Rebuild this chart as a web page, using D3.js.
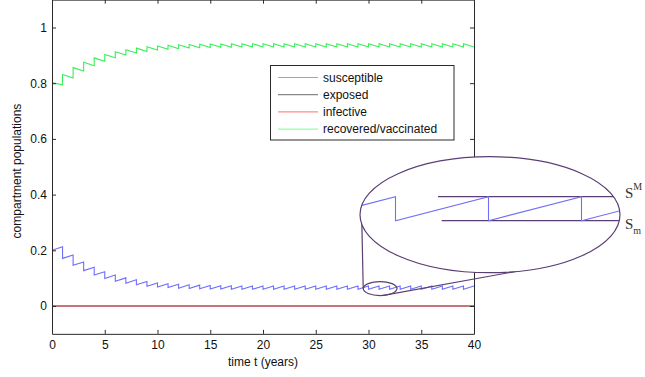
<!DOCTYPE html>
<html><head><meta charset="utf-8">
<script src="https://cdn.jsdelivr.net/npm/d3@7"></script>
<style>body{margin:0;background:#fff}svg{display:block}text{font-family:"Liberation Sans",Arial,Helvetica,sans-serif}</style>
</head><body>
<svg id="c" width="645" height="377"></svg>
<script>
// ---------- data ----------
const pulseTimes = [0,1,2,3,4,5,6,7,8,9,10,11,12,13,14,15,16,17,18,19,20,21,22,23,24,25,26,27,28,29,30,31,32,33,34,35,36,37,38,39,40];
// susceptible: value right after each pulse (start of year) and just before next pulse (end of year)
const susStart = [0.200,0.171,0.146,0.127,0.111,0.099,0.089,0.082,0.076,0.071,0.068,0.066,0.064,0.063,0.062,0.061,0.061,0.060,0.060,0.060,
                  0.060,0.060,0.060,0.060,0.060,0.060,0.060,0.060,0.060,0.060,0.060,0.060,0.060,0.060,0.060,0.060,0.060,0.060,0.060,0.060];
const susEnd   = [0.213,0.183,0.158,0.139,0.123,0.111,0.101,0.094,0.088,0.083,0.080,0.078,0.076,0.075,0.074,0.073,0.073,0.072,0.072,0.072,
                  0.072,0.072,0.072,0.072,0.072,0.072,0.072,0.072,0.072,0.072,0.072,0.072,0.072,0.072,0.072,0.072,0.072,0.072,0.072,0.072];
// recovered/vaccinated
const recStart = [0.802,0.831,0.856,0.875,0.891,0.903,0.913,0.920,0.926,0.931,0.934,0.936,0.938,0.939,0.940,0.941,0.941,0.942,0.942,0.942,
                  0.942,0.942,0.942,0.942,0.942,0.942,0.942,0.942,0.942,0.942,0.942,0.942,0.942,0.942,0.942,0.942,0.942,0.942,0.942,0.942];
const recEnd   = [0.794,0.819,0.844,0.863,0.879,0.891,0.901,0.908,0.914,0.919,0.922,0.924,0.926,0.927,0.928,0.929,0.929,0.930,0.930,0.930,
                  0.930,0.930,0.930,0.930,0.930,0.930,0.930,0.930,0.930,0.930,0.930,0.930,0.930,0.930,0.930,0.930,0.930,0.930,0.930,0.930];
const exposedVals  = [0, 0];
const infectiveVals = [0, 0];
const flatTimes = [0, 40];
const seriesNames = ["susceptible","exposed","infective","recovered/vaccinated"];
const xTicks = [0,5,10,15,20,25,30,35,40];
const yTicks = [0,0.2,0.4,0.6,0.8,1];
const yTickLabels = ["0","0.2","0.4","0.6","0.8","1"];
const xDomain = [0,40], yDomain = [-0.1,1.1];
const insetWindow = [30,32];      // years magnified in the inset
const zoomWindow = [29.5,32.7];   // small ellipse, in years

// ---------- layout / style ----------
const colors = {sus:"#6f6ffa", exp:"#555555", inf:"#e0404c", rec:"#3cee5a", ell:"#5b3f74"};
const legendColors = ["#9a9aff","#888888","#ff8a8a","#94ffa4"];
const svg = d3.select("#c");
const x = d3.scaleLinear().domain(xDomain).range([52,474]);
const y = d3.scaleLinear().domain(yDomain).range([333.85,-0.35]);

function sawPoints(start, end){
  const pts=[];
  for(let k=0;k<start.length;k++){
    pts.push([pulseTimes[k], start[k]]);
    pts.push([pulseTimes[k+1], end[k]]);
  }
  return pts;
}
const susPts = sawPoints(susStart, susEnd);
const recPts = sawPoints(recStart, recEnd);
const line = d3.line().x(d=>x(d[0])).y(d=>y(d[1]));

const g = svg.append("g");
g.append("path").attr("d", line(flatTimes.map((t,i)=>[t,exposedVals[i]]))).attr("fill","none").attr("stroke",colors.exp).attr("stroke-width",1);
g.append("path").attr("d", line(flatTimes.map((t,i)=>[t,infectiveVals[i]]))).attr("fill","none").attr("stroke",colors.inf).attr("stroke-width",1.2);
g.append("path").attr("d", line(susPts)).attr("fill","none").attr("stroke",colors.sus).attr("stroke-width",1.1);
g.append("path").attr("d", line(recPts)).attr("fill","none").attr("stroke",colors.rec).attr("stroke-width",1.1);

// axes
function styleAxis(sel){
  sel.selectAll("path.domain").attr("stroke","#2a2a2a").attr("stroke-width",1);
  sel.selectAll(".tick line").attr("stroke","#2a2a2a");
  sel.selectAll("text").attr("fill","#111").style("font-size","12px").style("font-family",'"Liberation Sans",Arial,sans-serif');
}
svg.append("g").attr("transform","translate(0,333.85)")
  .call(d3.axisBottom(x).tickValues(xTicks).tickSize(-4).tickSizeOuter(0).tickPadding(7)).call(styleAxis);
svg.append("g").attr("transform","translate(0,-0.35)")
  .call(d3.axisTop(x).tickValues(xTicks).tickSize(-4).tickSizeOuter(0).tickFormat("")).call(styleAxis);
svg.append("g").attr("transform","translate(52,0)")
  .call(d3.axisLeft(y).tickValues(yTicks).tickSize(-4).tickSizeOuter(0).tickPadding(5).tickFormat((d,i)=>yTickLabels[i])).call(styleAxis);
svg.append("g").attr("transform","translate(474,0)")
  .call(d3.axisRight(y).tickValues(yTicks).tickSize(-4).tickSizeOuter(0).tickFormat("")).call(styleAxis);

svg.append("text").attr("x",263).attr("y",366).attr("text-anchor","middle").style("font-size","12px").attr("fill","#111").text("time t (years)");
svg.append("text").attr("transform","translate(21,171) rotate(-90)").attr("text-anchor","middle").style("font-size","12px").attr("fill","#111").text("compartment populations");

// legend
const lg = svg.append("g");
lg.append("rect").attr("x",270.5).attr("y",65.5).attr("width",183.5).attr("height",74.5).attr("fill","#fff").attr("stroke","#2a2a2a").attr("stroke-width",1);
seriesNames.forEach((n,i)=>{
  const yy = 77.5 + i*17.2;
  lg.append("line").attr("x1",278).attr("x2",318).attr("y1",yy).attr("y2",yy).attr("stroke",legendColors[i]).attr("stroke-width",1.2);
  lg.append("text").attr("x",323).attr("y",yy+4.2).style("font-size","12px").attr("fill","#111").text(n);
});

// inset
const big = {cx:490, cy:214.7, rx:130, ry:58};
const xs0 = x(zoomWindow[0]), xs1 = x(zoomWindow[1]);
const small = {cx:(xs0+xs1)/2, cy:y(0.0625), rx:(xs1-xs0)/2, ry:7};
svg.append("line").attr("x1",big.cx-big.rx+1.5).attr("y1",207).attr("x2",small.cx-small.rx).attr("y2",small.cy)
  .attr("stroke",colors.ell).attr("stroke-width",1.2);
svg.append("line").attr("x1",small.cx+2).attr("y1",small.cy+small.ry).attr("x2",515).attr("y2",271.6)
  .attr("stroke",colors.ell).attr("stroke-width",1.2);
svg.append("ellipse").attr("cx",small.cx).attr("cy",small.cy).attr("rx",small.rx).attr("ry",small.ry)
  .attr("fill","none").attr("stroke",colors.ell).attr("stroke-width",1.2);

svg.append("clipPath").attr("id","ec").append("ellipse").attr("cx",big.cx).attr("cy",big.cy).attr("rx",big.rx).attr("ry",big.ry);
svg.append("ellipse").attr("cx",big.cx).attr("cy",big.cy).attr("rx",big.rx).attr("ry",big.ry).attr("fill","#fff").attr("stroke","none");
const sM = susEnd[30], sm = susStart[30];
const xi = d3.scaleLinear().domain(insetWindow).range([395.5,581.5]);
const yi = d3.scaleLinear().domain([sm,sM]).range([220.7,196.7]);
const ig = svg.append("g").attr("clip-path","url(#ec)");
ig.append("line").attr("x1",438).attr("x2",625).attr("y1",yi(sM)).attr("y2",yi(sM)).attr("stroke",colors.ell).attr("stroke-width",1.2);
ig.append("line").attr("x1",441.7).attr("x2",625).attr("y1",yi(sm)).attr("y2",yi(sm)).attr("stroke",colors.ell).attr("stroke-width",1.2);
ig.append("path").attr("d", d3.line().x(d=>xi(d[0])).y(d=>yi(d[1]))(susPts.filter(d=>d[0]>=28&&d[0]<=34)))
  .attr("fill","none").attr("stroke",colors.sus).attr("stroke-width",1.1);
svg.append("ellipse").attr("cx",big.cx).attr("cy",big.cy).attr("rx",big.rx).attr("ry",big.ry)
  .attr("fill","none").attr("stroke",colors.ell).attr("stroke-width",1.2);

const lab = svg.append("g").attr("fill","#333");
const t1 = lab.append("text").attr("x",625).attr("y",198).style("font-size","15px").style("font-family",'"Liberation Serif",serif');
t1.append("tspan").text("S");
t1.append("tspan").attr("dy",-8).style("font-size","10px").text("M");
const t2 = lab.append("text").attr("x",625).attr("y",229).style("font-size","15px").style("font-family",'"Liberation Serif",serif');
t2.append("tspan").text("S");
t2.append("tspan").attr("dy",5).style("font-size","10px").text("m");
</script>
</body></html>
